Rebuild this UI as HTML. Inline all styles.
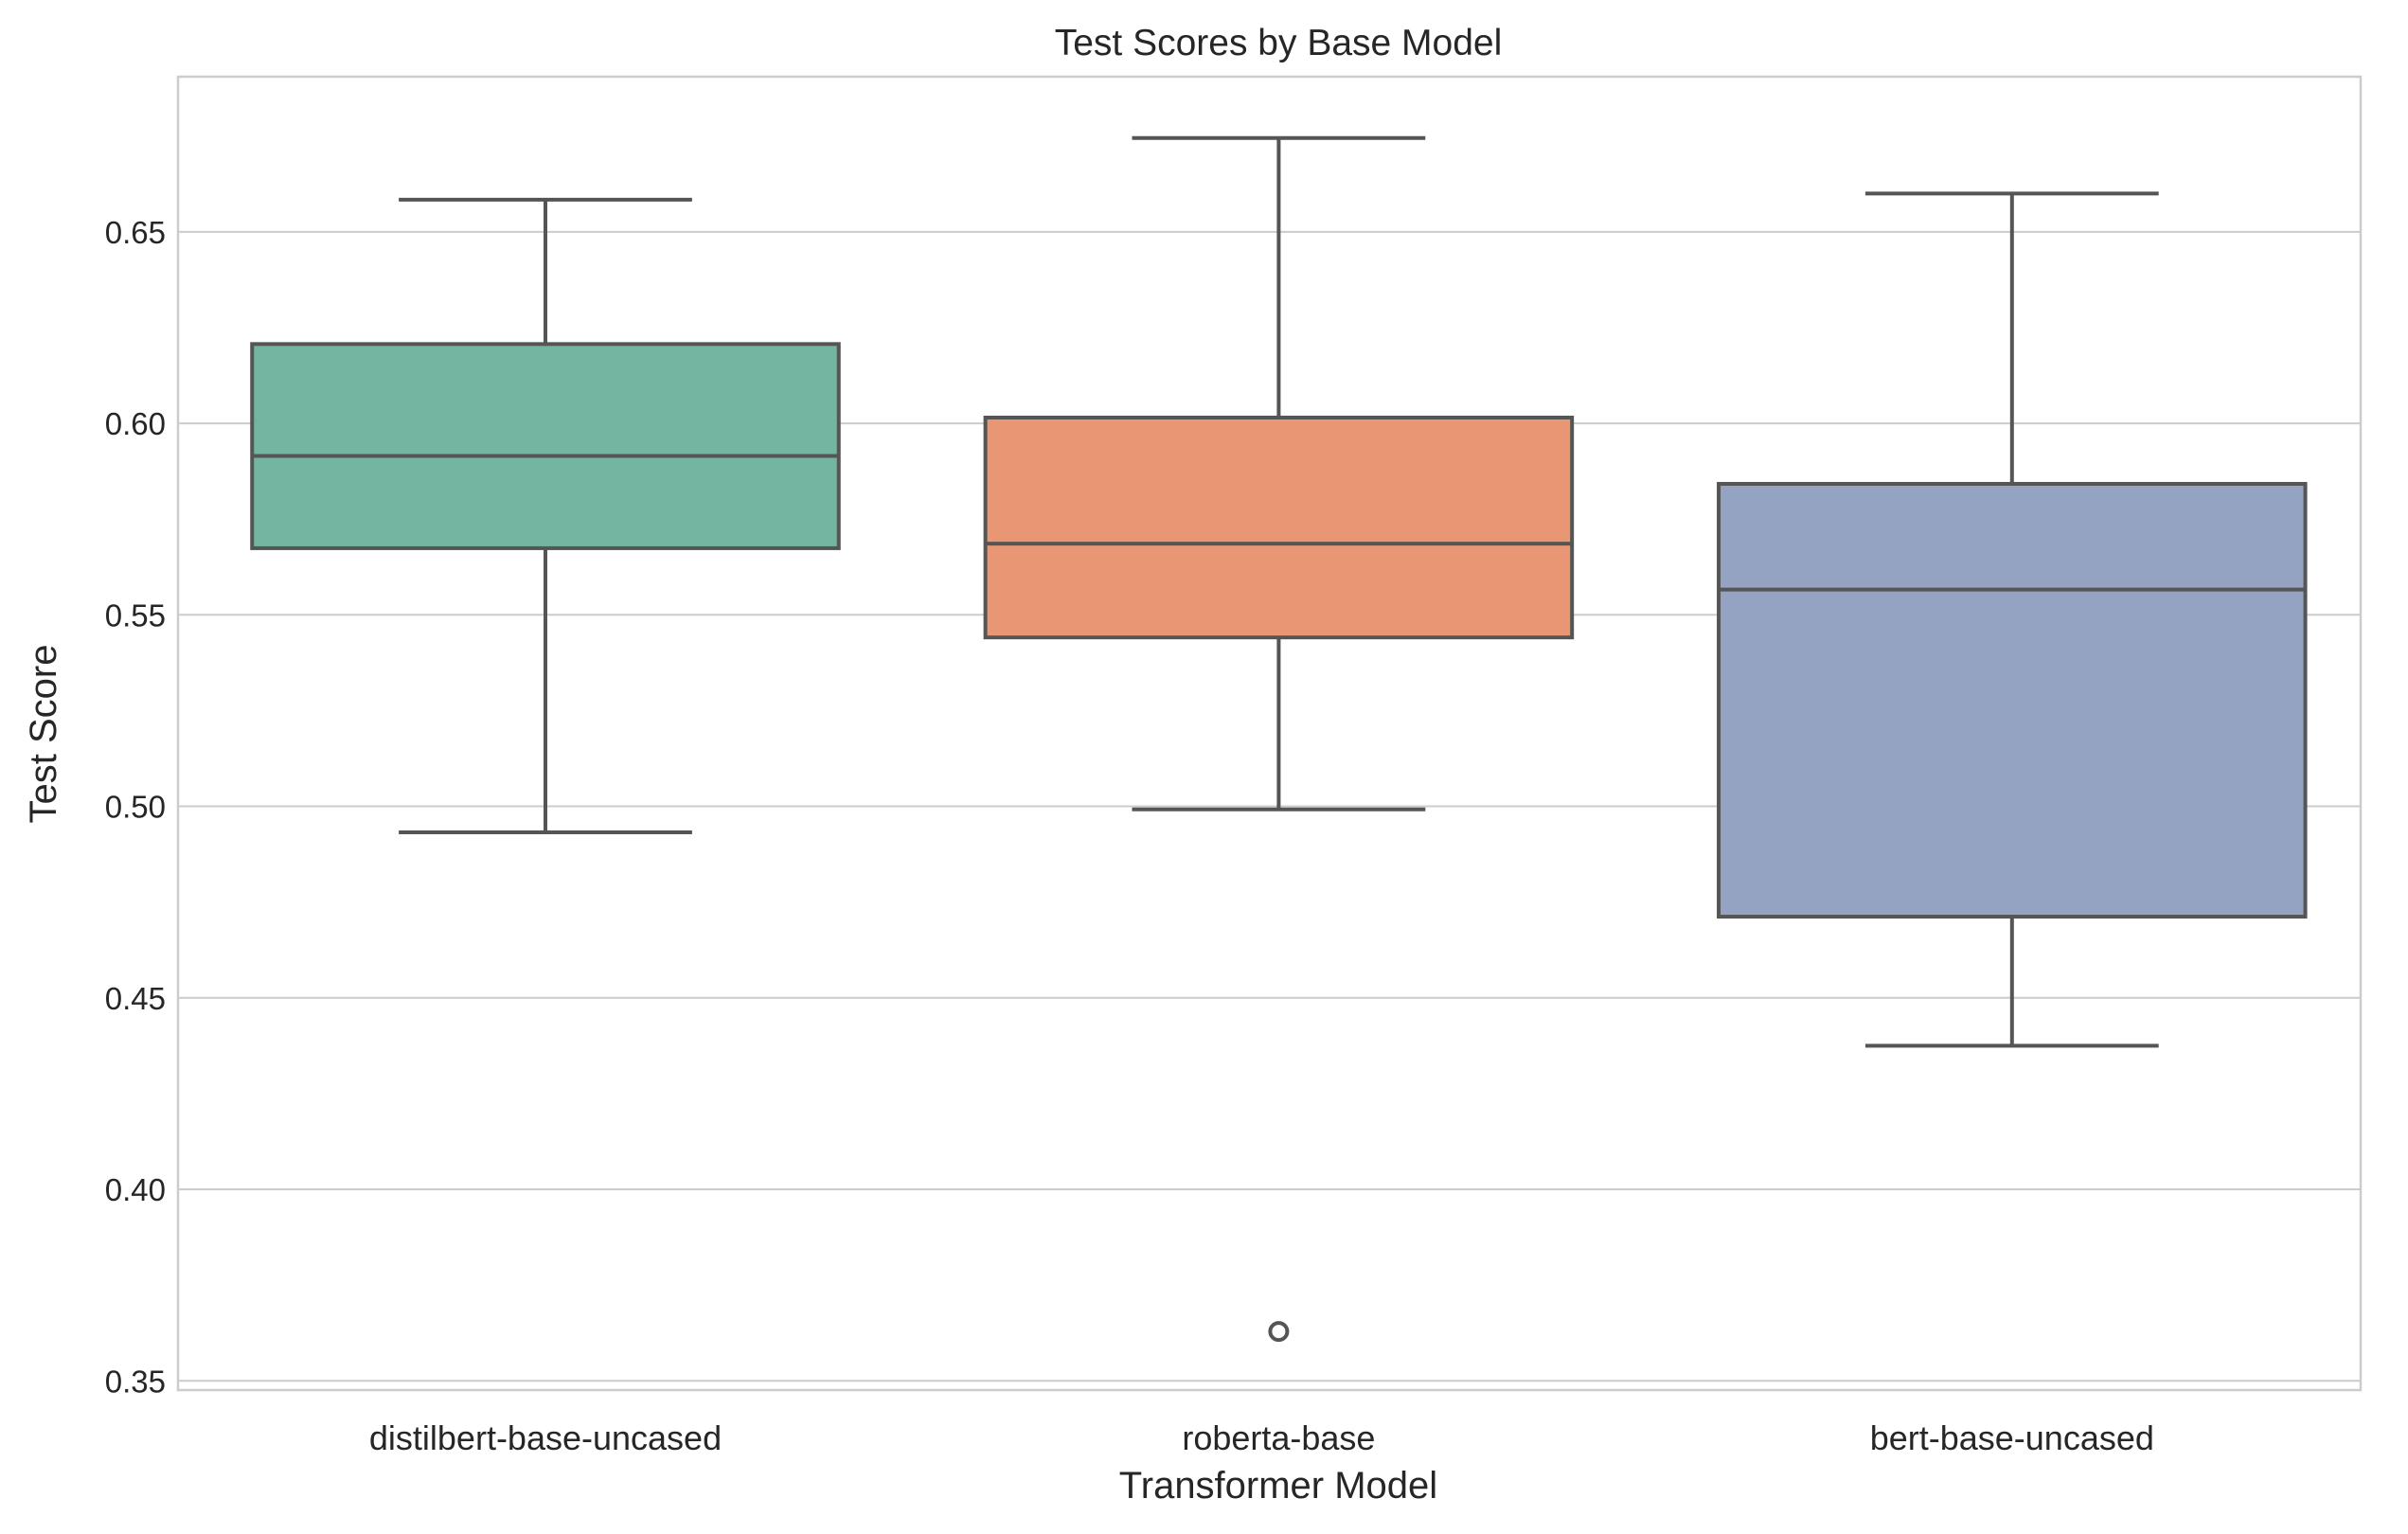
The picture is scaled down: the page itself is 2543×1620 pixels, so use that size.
<!DOCTYPE html>
<html><head><meta charset="utf-8"><style>html,body{margin:0;padding:0;background:#fff}svg{display:block}text{font-family:"Liberation Sans",sans-serif;fill:#262626}</style></head>
<body>
<svg id="chart" width="2543" height="1620" viewBox="0 0 2543 1620" xmlns="http://www.w3.org/2000/svg"></svg>
<script>
const categories = ["distilbert-base-uncased","roberta-base","bert-base-uncased"];
const whiskerLow = [0.4932,0.4992,0.4375];
const q1 = [0.5674,0.5441,0.4712];
const median = [0.5915,0.5686,0.5566];
const q3 = [0.6207,0.6015,0.5842];
const whiskerHigh = [0.6584,0.6745,0.6600];
const outliers = [[],[0.3629],[]];
const yTicks = [0.35,0.40,0.45,0.50,0.55,0.60,0.65];
const colors = ["#72b6a1","#e99675","#95a3c3"];

const L=188,R=2493,T=81,B=1468,yMin=0.3476,yMax=0.6905;
const NS="http://www.w3.org/2000/svg",svg=document.getElementById('chart');
const y=v=>B-(v-yMin)/(yMax-yMin)*(B-T);
const band=774.4;
const xc=i=>576+band*i;
function mk(tag,attrs,parent){const e=document.createElementNS(NS,tag);for(const k in attrs)e.setAttribute(k,attrs[k]);(parent||svg).appendChild(e);return e;}

yTicks.forEach(t=>{
  const g=mk('line',{x1:L,x2:R,y1:y(t),y2:y(t),stroke:'#cccccc','stroke-width':2});
  
  
  const tx=mk('text',{x:L-13,y:y(t)+12,'text-anchor':'end','font-size':33});
  tx.textContent=t.toFixed(2);
  
  
});
const frame=mk('rect',{x:L,y:T,width:R-L,height:B-T,fill:'none',stroke:'#cccccc','stroke-width':2.5});



const bw=band*0.8,lc='#555555',lw=4;
categories.forEach((c,i)=>{
  const g=mk('g',{});
  
  
  const x=xc(i);
  mk('line',{x1:x,x2:x,y1:y(q3[i]),y2:y(whiskerHigh[i]),stroke:lc,'stroke-width':lw},g);
  mk('line',{x1:x,x2:x,y1:y(q1[i]),y2:y(whiskerLow[i]),stroke:lc,'stroke-width':lw},g);
  mk('line',{x1:x-bw/4,x2:x+bw/4,y1:y(whiskerHigh[i]),y2:y(whiskerHigh[i]),stroke:lc,'stroke-width':lw},g);
  mk('line',{x1:x-bw/4,x2:x+bw/4,y1:y(whiskerLow[i]),y2:y(whiskerLow[i]),stroke:lc,'stroke-width':lw},g);
  mk('rect',{x:x-bw/2,y:y(q3[i]),width:bw,height:y(q1[i])-y(q3[i]),fill:colors[i],stroke:lc,'stroke-width':lw},g);
  mk('line',{x1:x-bw/2,x2:x+bw/2,y1:y(median[i]),y2:y(median[i]),stroke:lc,'stroke-width':lw},g);
  outliers[i].forEach(o=>{
    const p=mk('circle',{cx:x,cy:y(o),r:9,fill:'none',stroke:lc,'stroke-width':4},g);
    
    
  });
  const tx=mk('text',{x:x,y:1531,'text-anchor':'middle','font-size':36});
  tx.textContent=c;
  
  
});

const ti=mk('text',{x:1350,y:58,'text-anchor':'middle','font-size':39});
ti.textContent='Test Scores by Base Model';


const xt=mk('text',{x:1350,y:1582,'text-anchor':'middle','font-size':40});
xt.textContent='Transformer Model';


const yt=mk('text',{x:59,y:775,'text-anchor':'middle','font-size':40,transform:'rotate(-90 59 775)'});
yt.textContent='Test Score';


</script>
</body></html>
